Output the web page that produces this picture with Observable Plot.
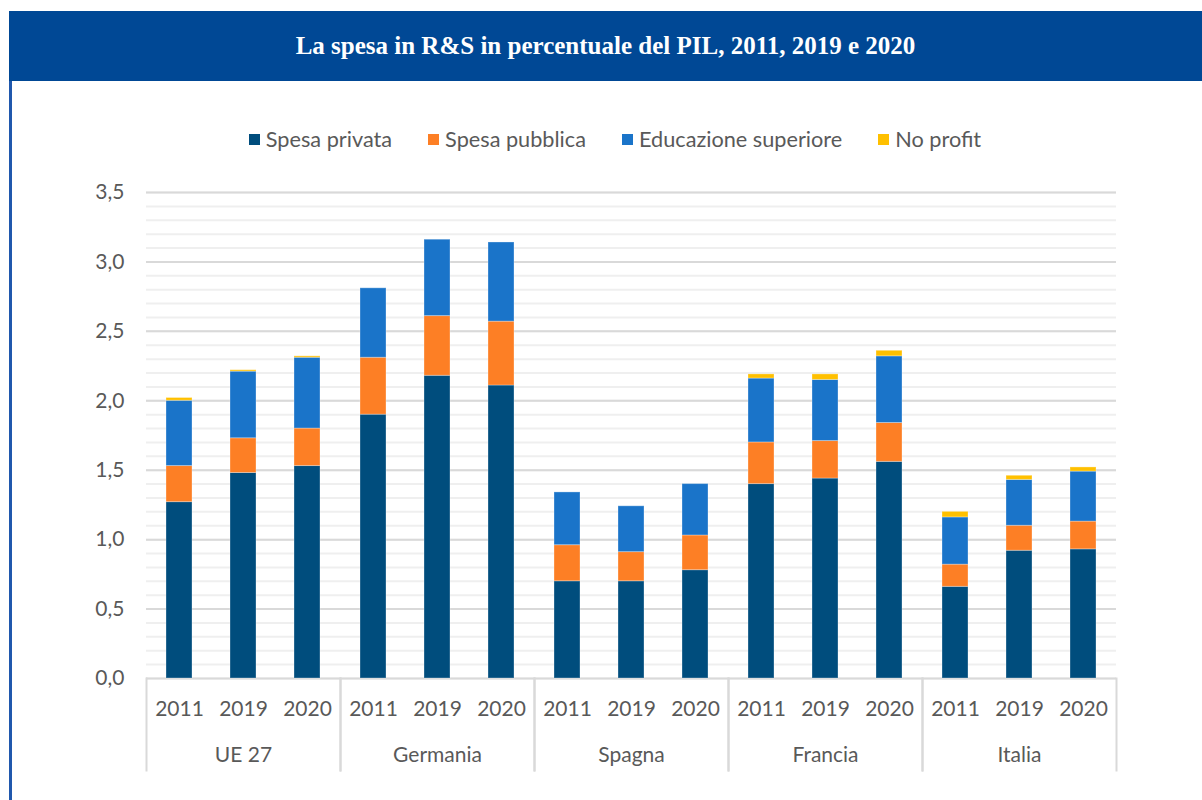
<!DOCTYPE html>
<html><head><meta charset="utf-8">
<script src="https://cdn.jsdelivr.net/npm/d3@7"></script>
<script src="https://cdn.jsdelivr.net/npm/@observablehq/plot@0.6"></script>
<style>
body{margin:0;background:#fff;width:1202px;height:800px;position:relative;overflow:hidden;font-family:Lato, sans-serif;}
#frame{position:absolute;left:9px;top:11px;width:1193px;height:789px;border-left:3px solid #2058ad;box-sizing:border-box}
#title{position:absolute;left:9px;top:11px;width:1193px;height:70px;background:#004895;color:#fff;font:bold 25px "Liberation Serif",serif;display:flex;align-items:center;justify-content:center}
#legend{position:absolute;top:126px;left:0;width:1202px;padding-left:28px;box-sizing:border-box;display:flex;justify-content:center;gap:36px;font-size:21.7px;color:#595959}
.item{display:flex;align-items:center}
.sw{width:11px;height:11px;margin-right:6px}
#chart{position:absolute;left:0;top:170px}
</style></head>
<body>
<div id="frame"></div>
<div id="title">La spesa in R&amp;S in percentuale del PIL, 2011, 2019 e 2020</div>
<div id="legend"></div>
<div id="chart"></div>
<script>
const countries = ["UE 27","Germania","Spagna","Francia","Italia"];
const years = ["2011","2019","2020"];
const series = ["Spesa privata","Spesa pubblica","Educazione superiore","No profit"];
const colors = ["#004d7d","#fd7f25","#1a74c9","#ffc000"];
const privata    = [1.27,1.48,1.53, 1.90,2.18,2.11, 0.70,0.70,0.78, 1.40,1.44,1.56, 0.66,0.92,0.93];
const pubblica   = [0.26,0.25,0.27, 0.41,0.43,0.46, 0.26,0.21,0.25, 0.30,0.27,0.28, 0.16,0.18,0.20];
const educazione = [0.47,0.48,0.51, 0.50,0.55,0.57, 0.38,0.33,0.37, 0.46,0.44,0.48, 0.34,0.33,0.36];
const noprofit   = [0.02,0.01,0.01, 0.00,0.00,0.00, 0.00,0.00,0.00, 0.03,0.04,0.04, 0.04,0.03,0.03];
const yTicks = [0,0.5,1,1.5,2,2.5,3,3.5];
const minorTicks = d3.range(0,36).map(i => i/10);

const valuesBySeries = [privata, pubblica, educazione, noprofit];
const rows = [];
series.forEach((s, si) => {
  countries.forEach((c, ci) => {
    years.forEach((y, yi) => {
      rows.push({country: c, year: y, series: s, value: valuesBySeries[si][ci*3+yi]});
    });
  });
});

// legend
const lg = document.getElementById("legend");
series.forEach((s,i) => {
  const it = document.createElement("div"); it.className = "item";
  const sw = document.createElement("div"); sw.className = "sw"; sw.style.background = colors[i];
  const tx = document.createElement("span"); tx.textContent = s;
  it.appendChild(sw); it.appendChild(tx); lg.appendChild(it);
});

const fmt = d => d.toFixed(1).replace(".", ",");
const plotH = 486;
const plot = Plot.plot({
  width: 1202, height: 630,
  marginLeft: 146, marginRight: 86, marginTop: 22, marginBottom: 122,
  style: {fontFamily: "Lato", fontSize: "21px", color: "#595959", background: "transparent", overflow: "visible"},
  fx: {domain: countries, padding: 0, label: null},
  x: {domain: years, paddingInner: 0.6, paddingOuter: 0.3, label: null},
  y: {domain: [0, 3.5], label: null},
  color: {domain: series, range: colors},
  marks: [
    Plot.ruleY(minorTicks, {y: d => d, stroke: "#efefef", strokeWidth: 2}),
    Plot.ruleY(yTicks, {y: d => d, stroke: "#d9d9d9", strokeWidth: 2}),
    Plot.barY(rows, {fx: "country", x: "year", y: "value", fill: "series", stroke: "white", strokeOpacity: 0.3, strokeWidth: 1}),
    Plot.frame({anchor: "left", stroke: "#d9d9d9", strokeWidth: 2, insetTop: plotH, insetBottom: -92}),
    Plot.frame({anchor: "right", stroke: "#d9d9d9", strokeWidth: 2, insetTop: plotH, insetBottom: -92}),
    Plot.axisY({ticks: yTicks, tickFormat: fmt, tickSize: 0, tickPadding: 22, label: null, fill: "#595959"}),
    Plot.axisX({anchor: "bottom", tickSize: 0, tickPadding: 23, label: null, fill: "#595959"}),
    Plot.axisFx({anchor: "bottom", tickSize: 0, tickPadding: 69, label: null, fill: "#595959"})
  ]
});
document.getElementById("chart").appendChild(plot);
</script>
</body></html>
